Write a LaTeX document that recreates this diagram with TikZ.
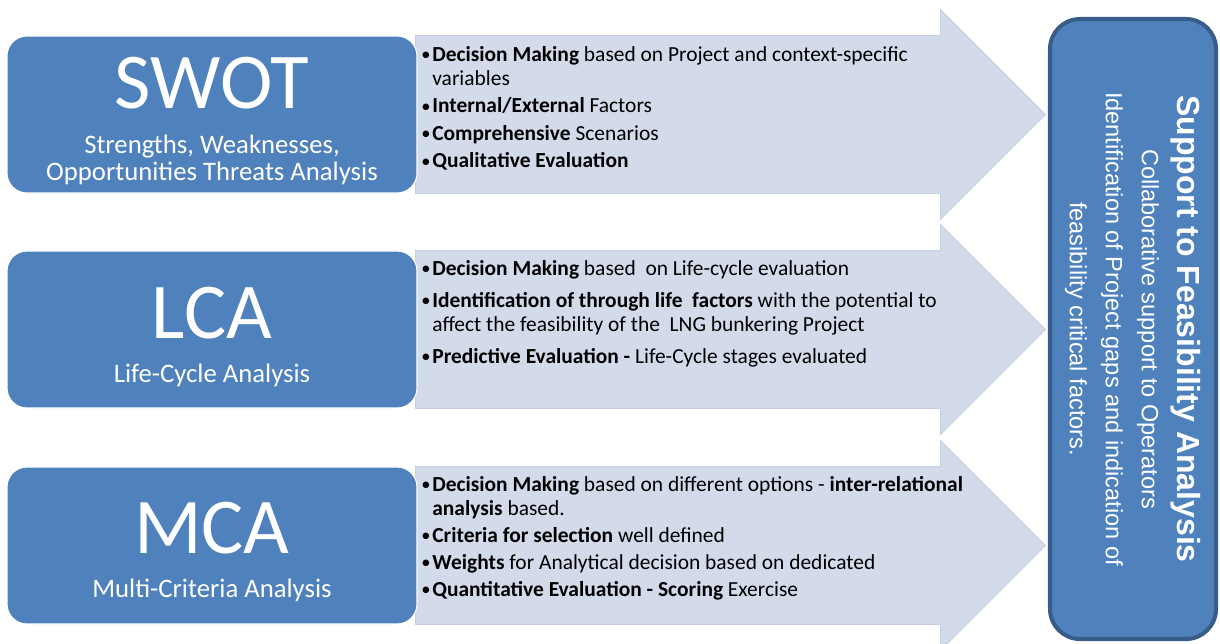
\documentclass[tikz,border=0pt]{standalone}
\usepackage{fontspec}
\setmainfont{Carlito}
\newfontfamily\arialfont{Liberation Sans}
\usetikzlibrary{shapes.arrows}
\definecolor{boxblue}{HTML}{4F81BD}
\definecolor{boxedge}{HTML}{385D8A}
\definecolor{flowfill}{HTML}{D3DAEA}
\definecolor{flowedge}{HTML}{C7CFE3}
\newcommand\bul{\makebox[0.22cm][l]{\raisebox{0.3pt}{\fontsize{10.5}{10.5}\selectfont\textbullet}}}
\newcommand\cont{\hspace*{0.22cm}}

\begin{document}
\begin{tikzpicture}[
  tool/.style={draw=white,line width=0.6pt,fill=boxblue,rounded corners=0.4cm,minimum width=8.2cm,minimum height=3.14cm,inner sep=0},
  big/.style={text=white,font=\fontsize{45}{45}\selectfont,anchor=base,inner sep=0},
  sub/.style={text=white,font=\fontsize{15.2}{17}\selectfont,anchor=base,inner sep=0},
  flow/.style={single arrow,fill=flowfill,draw=flowedge,line width=0.5pt,single arrow head extend=0.52cm,single arrow tip angle=90,minimum height=12.6cm,inner xsep=0,inner ysep=1.57cm,anchor=tail},
  pts/.style={font=\fontsize{12.2}{13.66}\selectfont,align=left,anchor=north west,inner sep=0},
  fsa/.style={draw=boxedge,line width=2.3pt,fill=boxblue,rounded corners=0.6cm,rotate=-90,minimum width=12.4cm,minimum height=3.32cm,text=white,align=center,font=\arialfont\fontsize{13.4}{20.5}\selectfont}]
\useasboundingbox (0,0) rectangle (24.4,-12.86);
% arrows behind
\node[flow] (a1) at (8.3,-2.29) {};
\node[flow] (a2) at (8.3,-6.59) {};
\node[flow] (a3) at (8.3,-10.91) {};
% methods
\node[tool] (swot) at (4.24,-2.29) {};
\node[big] (swotT) at (4.24,-2.16) {SWOT};
\node[sub] (swotS1) at (4.24,-3.06) {Strengths, Weaknesses,};
\node[sub] (swotS2) at (4.24,-3.60) {Opportunities Threats Analysis};
\node[tool] (lca) at (4.24,-6.59) {};
\node[big] (lcaT) at (4.24,-6.76) {LCA};
\node[sub] (lcaS) at (4.24,-7.64) {Life-Cycle Analysis};
\node[tool] (mca) at (4.24,-10.91) {};
\node[big] (mcaT) at (4.24,-11.06) {MCA};
\node[sub] (mcaS) at (4.24,-11.94) {Multi-Criteria Analysis};
% bullet text on the arrows
\node[pts] (swotP) at (8.42,-0.92) {\bul\textbf{Decision Making} based on Project and context-specific\\
  \cont variables\\[2pt]
  \bul\textbf{Internal/External} Factors\\[2pt]
  \bul\textbf{Comprehensive} Scenarios\\[2pt]
  \bul\textbf{Qualitative Evaluation}};
\node[pts] (lcaP) at (8.42,-5.20) {\bul\textbf{Decision Making} based\ \ on Life-cycle evaluation\\[4.5pt]
  \bul\textbf{Identification of through life\ \ factors} with the potential to\\
  \cont affect the feasibility of the\ \ LNG bunkering Project\\[4.5pt]
  \bul\textbf{Predictive Evaluation -} Life-Cycle stages evaluated};
\node[pts] (mcaP) at (8.42,-9.52) {\bul\textbf{Decision Making} based on different options - \textbf{inter-relational}\\
  \cont\textbf{analysis} based.\\[1.7pt]
  \bul\textbf{Criteria for selection} well defined\\[1.7pt]
  \bul\textbf{Weights} for Analytical decision based on dedicated\\[1.7pt]
  \bul\textbf{Quantitative Evaluation - Scoring} Exercise};
% target
\node[fsa] (feas) at (22.66,-6.58) {{\bfseries\fontsize{18.2}{21}\selectfont Support to Feasibility Analysis}\\
  Collaborative support to Operators\\
  Identification of Project gaps and indication of\\
  feasibility critical factors.};
\end{tikzpicture}
\end{document}
